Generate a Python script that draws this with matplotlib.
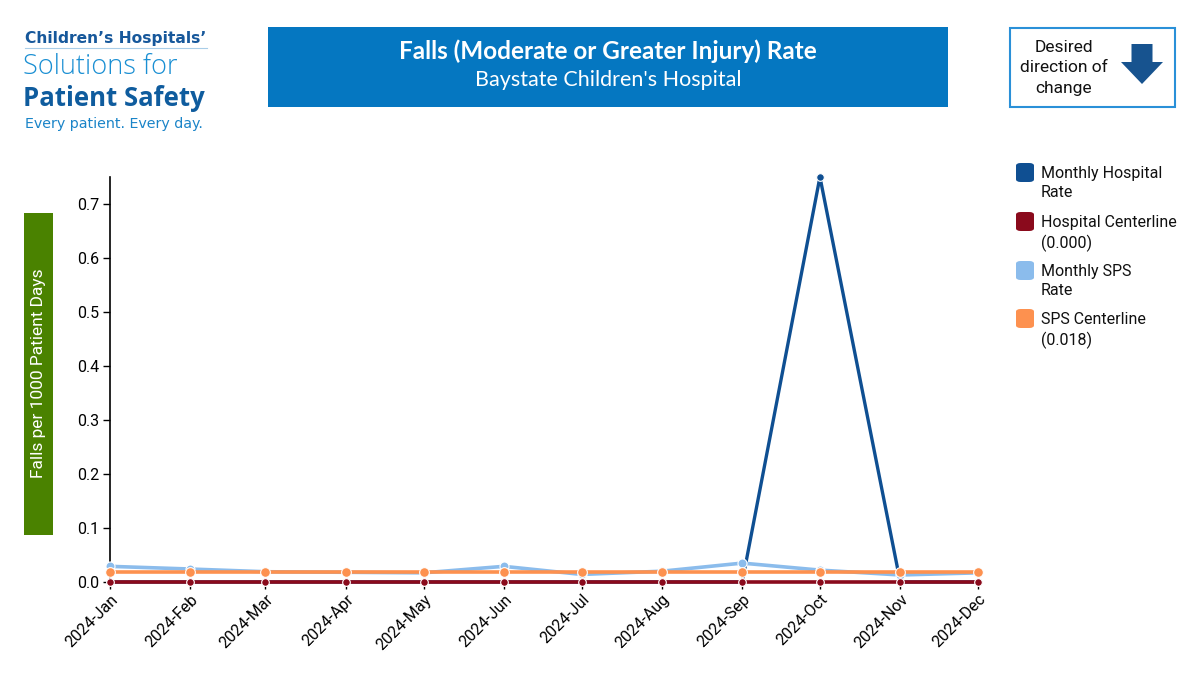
import matplotlib
matplotlib.use("Agg")
import matplotlib.pyplot as plt
import matplotlib.dates as mdates
from matplotlib.patches import FancyBboxPatch, Rectangle, FancyArrow
from datetime import datetime

months = ["2024-01", "2024-02", "2024-03", "2024-04", "2024-05", "2024-06",
          "2024-07", "2024-08", "2024-09", "2024-10", "2024-11", "2024-12"]
hospital_rate = [0.0, 0.0, 0.0, 0.0, 0.0, 0.0, 0.0, 0.0, 0.0, 0.75, 0.0, 0.0]
hospital_center = [0.0] * 12
sps_rate = [0.029, 0.024, 0.019, 0.018, 0.017, 0.029, 0.014, 0.020, 0.035, 0.022, 0.013, 0.017]
sps_center = [0.018] * 12
y_ticks = [0.0, 0.1, 0.2, 0.3, 0.4, 0.5, 0.6, 0.7]
legend_labels = ["Monthly Hospital\nRate", "Hospital Centerline\n(0.000)",
                 "Monthly SPS\nRate", "SPS Centerline\n(0.018)"]

c_hosp = "#0f4f92"
c_hcl = "#8a0a1c"
c_sps = "#8bbcec"
c_scl = "#fd914f"

plt.rcParams['font.family'] = ['Roboto', 'DejaVu Sans']

W, H = 1200, 676
fig = plt.figure(figsize=(W / 100, H / 100), dpi=100)

def fx(px):
    return px / W

def fy(py):
    return 1 - py / H

x = [datetime.strptime(m, "%Y-%m") for m in months]

ax = fig.add_axes([fx(110), fy(582), fx(978) - fx(110), fy(177) - fy(582)])
ax.plot(x, hospital_rate, color=c_hosp, lw=2.4, marker='o', ms=5.5,
        mfc=c_hosp, mec='white', mew=0.8, zorder=2, clip_on=False)
ax.plot(x, sps_rate, color=c_sps, lw=2.6, marker='o', ms=6.5,
        mfc=c_sps, mec='white', mew=0.8, zorder=3, clip_on=False)
ax.plot(x, sps_center, color=c_scl, lw=2.6, marker='o', ms=7,
        mfc=c_scl, mec='white', mew=0.8, zorder=4, clip_on=False)
ax.plot(x, hospital_center, color=c_hcl, lw=2.6, marker='o', ms=5.5,
        mfc=c_hcl, mec='white', mew=0.8, zorder=5, clip_on=False)

ax.set_xlim(x[0], x[-1])
ax.set_ylim(0, 0.75)
ax.set_yticks(y_ticks)
ax.set_yticklabels([f"{v:.1f}" for v in y_ticks])
ax.set_xticks(x)
ax.xaxis.set_major_formatter(mdates.DateFormatter("%Y-%b"))
for lab in ax.get_xticklabels():
    lab.set_rotation(45)
    lab.set_ha('right')
    lab.set_rotation_mode('anchor')
ax.tick_params(axis='both', labelsize=11.5, colors='black', length=5, width=1)
ax.tick_params(axis='x', pad=2)
ax.tick_params(axis='y', pad=3)
for s in ['top', 'right', 'bottom']:
    ax.spines[s].set_visible(False)
ax.spines['left'].set_color('black')
ax.spines['left'].set_linewidth(1.2)
ax.patch.set_alpha(0)

# Title box
fig.patches.append(Rectangle((fx(268), fy(107)), fx(948) - fx(268), fy(27) - fy(107),
                             transform=fig.transFigure, facecolor="#0577c1",
                             edgecolor='none'))
fig.text(fx(608), fy(51), "Falls (Moderate or Greater Injury) Rate", color='white',
         fontsize=17.5, fontweight='bold', ha='center', va='center', family=['Lato', 'DejaVu Sans'])
fig.text(fx(608), fy(80), "Baystate Children's Hospital", color='white',
         fontsize=15.5, ha='center', va='center', family=['Lato', 'DejaVu Sans'])

# Direction box
fig.patches.append(Rectangle((fx(1010), fy(107)), fx(1175) - fx(1010), fy(28) - fy(107),
                             transform=fig.transFigure, facecolor='white',
                             edgecolor="#2a90d8", lw=1.5))
fig.text(fx(1064), fy(68), "Desired\ndirection of\nchange", ha='center', va='center',
         fontsize=12.5, linespacing=1.45, color='#111111')
fig.patches.append(FancyArrow(fx(1142), fy(44), 0, fy(84) - fy(44),
                              width=fx(21), head_width=fx(42),
                              head_length=fy(62) - fy(84), length_includes_head=True,
                              transform=fig.transFigure, color="#17538f", lw=0))

# Y label box
fig.patches.append(Rectangle((fx(24), fy(535)), fx(53) - fx(24), fy(213) - fy(535),
                             transform=fig.transFigure, facecolor="#4a8200",
                             edgecolor='none'))
fig.text(fx(39), fy(373), "Falls per 1000 Patient Days", rotation=90, color='white',
         fontsize=12.5, ha='center', va='center')

# Legend
leg_rows = [172, 221, 270, 318]
leg_colors = [c_hosp, c_hcl, c_sps, c_scl]
for yc, col, lab in zip(leg_rows, leg_colors, legend_labels):
    fig.patches.append(FancyBboxPatch((fx(1016), fy(yc + 10)),
                                      fx(18), fy(0) - fy(19),
                                      boxstyle="round,pad=0,rounding_size=0.004",
                                      transform=fig.transFigure, facecolor=col,
                                      edgecolor='none'))
    fig.text(fx(1041), fy(yc - 6), lab, ha='left', va='top', fontsize=11.5,
             linespacing=1.35, color='#111111')

# Logo
fig.text(fx(25), fy(38), "Children\u2019s Hospitals\u2019", fontsize=11.2, fontweight='bold',
         color="#17589b", ha='left', va='center', family=['DejaVu Sans'])
fig.add_artist(plt.Line2D([fx(25), fx(207)], [fy(48), fy(48)], color="#a9cde8", lw=0.8,
                          transform=fig.transFigure))
fig.text(fx(23), fy(67), "Solutions for", fontsize=19.5, color="#1a8fd3",
         ha='left', va='center', family=['Open Sans', 'DejaVu Sans'], fontweight='light')
fig.text(fx(23), fy(98), "Patient Safety", fontsize=18.5, fontweight='bold',
         color="#0f5c9e", ha='left', va='center', family=['Open Sans', 'DejaVu Sans'])
fig.text(fx(25), fy(124), "Every patient. Every day.", fontsize=10.3, color="#1a84c8",
         ha='left', va='center', family=['DejaVu Sans'])

fig.savefig("out.png", dpi=100)
